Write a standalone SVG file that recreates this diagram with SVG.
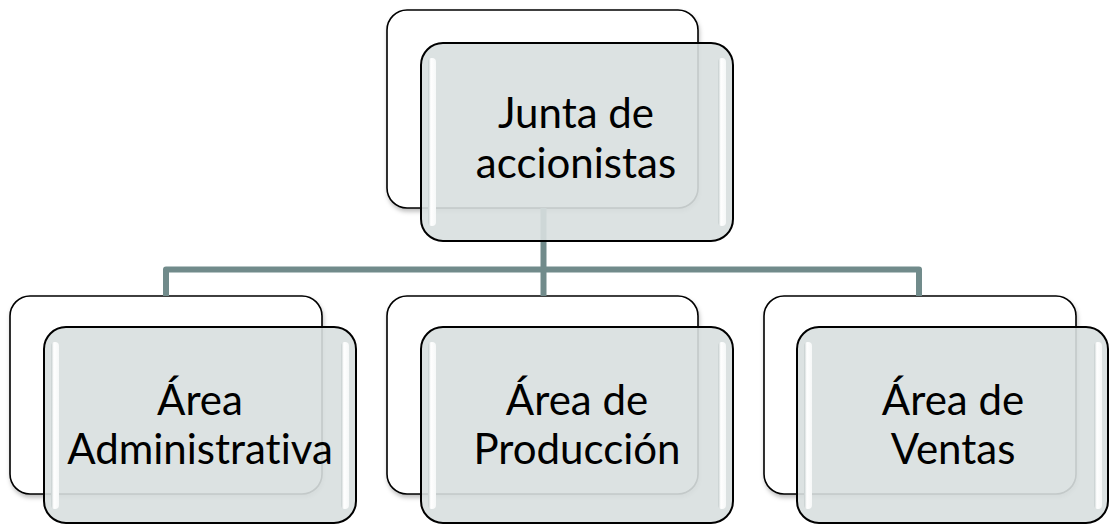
<svg xmlns="http://www.w3.org/2000/svg" width="1109" height="524" viewBox="0 0 1109 524">
<defs>
<style>
.back{fill:#ffffff;stroke:#000000;stroke-width:1.6}
.front{fill:rgb(216,223,223);fill-opacity:0.9;stroke:#000000;stroke-width:2}
.hl{fill:url(#hlg)}
.lbl{font-family:Lato,"Liberation Sans",sans-serif;font-size:42px;fill:#000000;text-anchor:middle;font-variant-ligatures:none;font-feature-settings:"liga" 0,"clig" 0}
.conn{fill:none;stroke:#718b8b;stroke-width:6;stroke-linejoin:round}
</style>
<linearGradient id="hlg" x1="0" y1="0" x2="1" y2="0">
<stop offset="0" stop-color="#c3cccc"/>
<stop offset="0.35" stop-color="#ffffff"/>
<stop offset="1" stop-color="#f6f8f8"/>
</linearGradient>
<filter id="sh" x="-10%" y="-10%" width="125%" height="125%">
<feDropShadow dx="1" dy="3" stdDeviation="2" flood-color="#000" flood-opacity="0.25"/>
</filter>
</defs>
<rect width="1109" height="524" fill="#ffffff"/>
<g id="back-boxes">
<rect class="back" filter="url(#sh)" x="387" y="10" width="311" height="198" rx="20"/>
<rect class="back" filter="url(#sh)" x="10" y="296" width="312" height="198" rx="20"/>
<rect class="back" filter="url(#sh)" x="387" y="296" width="311" height="198" rx="20"/>
<rect class="back" filter="url(#sh)" x="764" y="296" width="312" height="198" rx="20"/>
</g>
<g id="connectors">
<path class="conn" d="M543.5,208 V269.5"/>
<path class="conn" d="M166,296 V269.5 H919 V296"/>
<path class="conn" d="M543.5,269.5 V296"/>
</g>
<g id="node-junta">
<rect class="front" x="421" y="43" width="312" height="198" rx="22"/>
<rect class="hl" x="428" y="58" width="8" height="168" rx="4"/>
<rect class="hl" x="718" y="58" width="8" height="168" rx="4"/>
<text class="lbl" x="576" y="128">Junta de</text>
<text class="lbl" x="576" y="178">accionistas</text>
</g>
<g id="node-admin">
<rect class="front" x="44" y="327" width="312" height="196" rx="22"/>
<rect class="hl" x="51" y="342" width="8" height="167" rx="4"/>
<rect class="hl" x="341" y="342" width="8" height="167" rx="4"/>
<text class="lbl" x="200" y="415">Área</text>
<text class="lbl" x="200" y="464">Administrativa</text>
</g>
<g id="node-produccion">
<rect class="front" x="421" y="327" width="312" height="196" rx="22"/>
<rect class="hl" x="428" y="342" width="8" height="167" rx="4"/>
<rect class="hl" x="718" y="342" width="8" height="167" rx="4"/>
<text class="lbl" x="577" y="415">Área de</text>
<text class="lbl" x="577" y="464">Producción</text>
</g>
<g id="node-ventas">
<rect class="front" x="797" y="327" width="311" height="196" rx="22"/>
<rect class="hl" x="804" y="342" width="8" height="167" rx="4"/>
<rect class="hl" x="1094" y="342" width="8" height="167" rx="4"/>
<text class="lbl" x="953" y="415">Área de</text>
<text class="lbl" x="953" y="464">Ventas</text>
</g>
</svg>
